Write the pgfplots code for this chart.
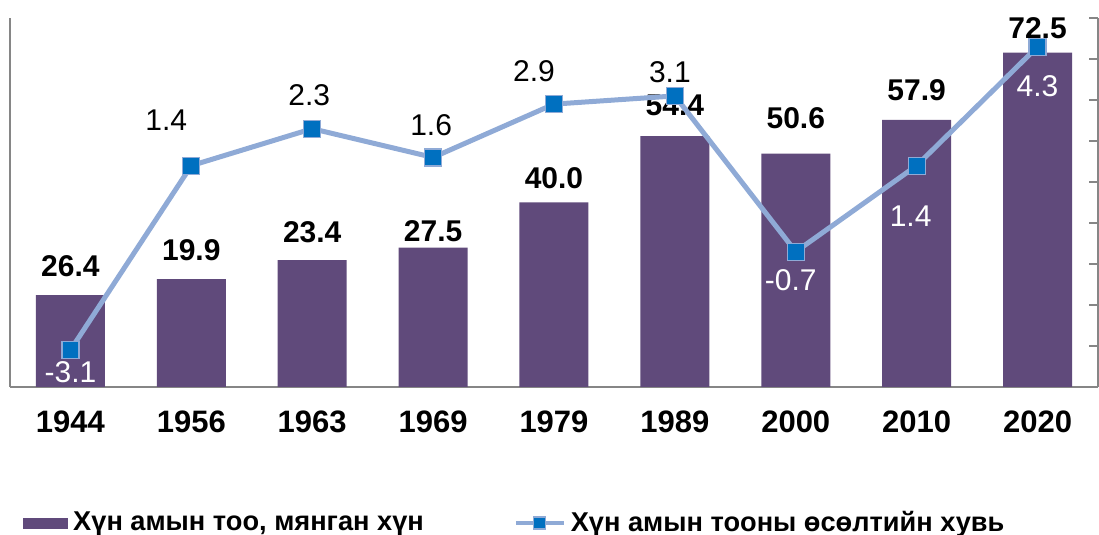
\documentclass[border=0pt]{standalone}
\usepackage{pgfplots}
\usepackage{pgfplotstable}
\pgfplotsset{compat=1.18}
\usepackage{fontspec}
\setmainfont{Liberation Sans}
\definecolor{barc}{RGB}{96,74,123}
\definecolor{linec}{RGB}{143,170,214}
\definecolor{markc}{RGB}{0,112,192}
\definecolor{axc}{RGB}{134,134,134}

\pgfplotstableread{
x bar lbl ly
0 19.9 26.4 14.5
1 23.4 19.9 14.5
2 27.5 23.4 14
3 30.2 27.5 8.5
4 40.0 40.0 12
5 54.4 54.4 15.5
6 50.6 50.6 17.5
7 57.9 57.9 15
8 72.5 72.5 12
}\bardata

\pgfplotstableread{
x g lx ly
1 1.4 -12.5 22.5
2 2.3 -1.5 17
3 1.6 -1 16
4 2.9 -10 16.5
5 3.1 -2.5 12
}\labup

\pgfplotstableread{
x g lx ly
0 -3.1 0 -11
6 -0.7 -2.5 -14
7 1.4 -3 -25.5
8 4.3 0 -19.5
}\labdown

\pgfplotstableread{
x g
0 -3.1
1 1.4
2 2.3
3 1.6
4 2.9
5 3.1
6 -0.7
7 1.4
8 4.3
}\linedata

\begin{document}
\begin{tikzpicture}
\useasboundingbox (-5pt,-74pt) rectangle (544.5pt,193.5pt);
\begin{axis}[
  scale only axis, width=544pt, height=184.5pt,
  xmin=-0.5, xmax=8.5, ymin=0, ymax=80,
  axis x line*=bottom, axis y line*=left,
  axis line style={draw=axc, line width=0.75pt, -},
  ytick=\empty,
  xtick={0,...,8},
  xticklabels={1944,1956,1963,1969,1979,1989,2000,2010,2020},
  major tick length=0pt,
  xticklabel style={font=\fontsize{15.5}{18}\selectfont\bfseries, anchor=base, yshift=-23pt},
  clip=false,
]
\addplot[ybar, bar width=34.5pt, fill=barc, draw=none,
  point meta=explicit symbolic,
  visualization depends on={\thisrow{ly} \as \bly},
  nodes near coords,
  nodes near coords style={font=\fontsize{15}{18}\selectfont\bfseries, anchor=center, yshift=\bly pt, text=black},
] table[x=x, y=bar, meta=lbl] {\bardata};
\end{axis}
\begin{axis}[
  scale only axis, width=544pt, height=184.5pt,
  xmin=-0.5, xmax=8.5, ymin=-4, ymax=5,
  axis x line=none, axis y line*=right,
  axis line style={draw=axc, line width=0.75pt, -},
  ytick={-4,-3,-2,-1,0,1,2,3,4,5}, yticklabels={},
  tick align=inside, major tick length=4.5pt,
  tick style={draw=axc, line width=0.75pt},
  clip=false,
  legend columns=2,
  legend cell align=left,
  legend style={at={(0.012,-0.3686)}, anchor=west, draw=none, fill=none, inner sep=0pt,
    font=\fontsize{13.6}{15}\selectfont\bfseries,
    nodes={inner xsep=2.5pt, inner ysep=0pt},
    /tikz/every even column/.append style={column sep=42.5pt}},
]
\addlegendimage{legend image code/.code={\fill[barc] (0pt,-2.5pt) rectangle (22pt,2.5pt);}}
\addlegendentry{Хүн амын тоо, мянган хүн}
\addplot[color=linec, line width=2.5pt, mark=square*, mark size=4.25pt,
  mark options={fill=markc, draw=linec, line width=0.6pt},
  legend image code/.code={\draw[mark=none, line width=2pt] (0pt,0pt) -- (24pt,0pt); \draw[mark size=3pt] plot coordinates {(12pt,0pt)};},
] table[x=x, y=g] {\linedata};
\addlegendentry{Хүн амын тооны өсөлтийн хувь}
\addplot[draw=none, mark=none, forget plot,
  point meta=explicit symbolic,
  visualization depends on={\thisrow{lx} \as \llx},
  visualization depends on={\thisrow{ly} \as \lly},
  nodes near coords,
  nodes near coords style={font=\fontsize{15}{18}\selectfont, anchor=center, xshift=\llx pt, yshift=\lly pt, text=black},
] table[x=x, y=g, meta=g] {\labup};
\addplot[draw=none, mark=none, forget plot,
  point meta=explicit symbolic,
  visualization depends on={\thisrow{lx} \as \llx},
  visualization depends on={\thisrow{ly} \as \lly},
  nodes near coords,
  nodes near coords style={font=\fontsize{15}{18}\selectfont, anchor=center, xshift=\llx pt, yshift=\lly pt, text=white},
] table[x=x, y=g, meta=g] {\labdown};
\end{axis}
\end{tikzpicture}
\end{document}
